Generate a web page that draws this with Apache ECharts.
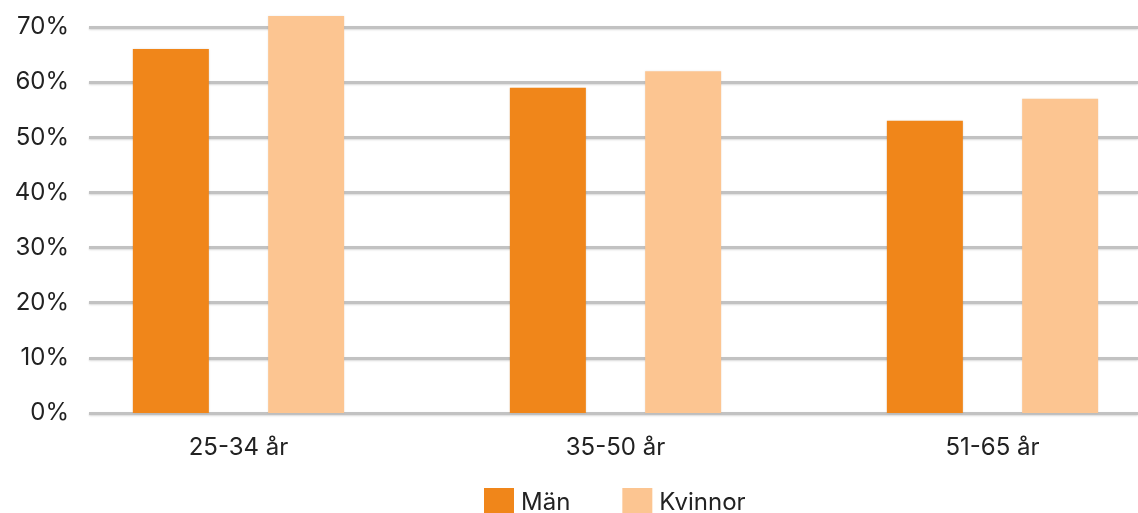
<!DOCTYPE html>
<html>
<head>
<meta charset="utf-8">
<script src="https://cdn.jsdelivr.net/npm/echarts@6/dist/echarts.min.js"></script>
<style>
  html, body { margin: 0; padding: 0; background: #fff; }
  #chart { width: 1138px; height: 513px; }
</style>
</head>
<body>
<div id="chart"></div>
<script>
var categories = ['25-34 år', '35-50 år', '51-65 år']
var man = [66, 59, 53]
var kvinnor = [72, 62, 57]
var yTicks = [0, 10, 20, 30, 40, 50, 60, 70]

var chart = echarts.init(document.getElementById('chart'))
var font = 'Inter, "Noto Sans", sans-serif'

var option = {
  animation: false,
  textStyle: { fontFamily: font },
  grid: [
    // gridlines + y labels
    { left: 89, right: 0, top: 27, bottom: 100, outerBoundsMode: 'none' },
    // bars: category band is wider than the visible area, top extended so 72% is not clipped
    { left: 50, width: 1131, top: 5, bottom: 100, outerBoundsMode: 'none' }
  ],
  legend: {
    data: ['Män', 'Kvinnor'],
    top: 483,
    left: 479,
    itemWidth: 30,
    itemHeight: 30,
    itemGap: 52,
    icon: 'rect',
    textStyle: { fontSize: 24, color: '#222', fontFamily: font, padding: [0, 0, 0, 2] }
  },
  xAxis: [
    {
      gridIndex: 0,
      type: 'category',
      data: categories,
      show: false
    },
    {
      gridIndex: 1,
      type: 'category',
      data: categories,
      axisLine: { show: false },
      axisTick: { show: false },
      axisLabel: { fontSize: 24, color: '#222', margin: 23, fontFamily: font }
    }
  ],
  yAxis: [
    {
      gridIndex: 0,
      type: 'value',
      min: yTicks[0],
      max: yTicks[yTicks.length - 1],
      interval: 10,
      axisLine: { show: false },
      axisTick: { show: false },
      axisLabel: { formatter: '{value}%', fontSize: 24, color: '#222', margin: 20, fontFamily: font },
      splitLine: {
        lineStyle: { color: '#c2c2c2', width: 3, shadowColor: 'rgba(0,0,0,0.15)', shadowBlur: 2, shadowOffsetY: 1 }
      }
    },
    {
      gridIndex: 1,
      type: 'value',
      min: 0,
      max: 74,
      show: false,
      splitLine: { show: false }
    }
  ],
  series: [
    {
      name: 'Män',
      type: 'bar',
      xAxisIndex: 1,
      yAxisIndex: 1,
      data: man,
      barWidth: 76,
      barGap: '78%',
      itemStyle: { color: '#f0861a', shadowColor: 'rgba(0,0,0,0.12)', shadowBlur: 2 }
    },
    {
      name: 'Kvinnor',
      type: 'bar',
      xAxisIndex: 1,
      yAxisIndex: 1,
      data: kvinnor,
      barWidth: 76,
      barGap: '78%',
      itemStyle: { color: '#fcc591', shadowColor: 'rgba(0,0,0,0.08)', shadowBlur: 2 }
    }
  ]
}
chart.setOption(option)
</script>
</body>
</html>
